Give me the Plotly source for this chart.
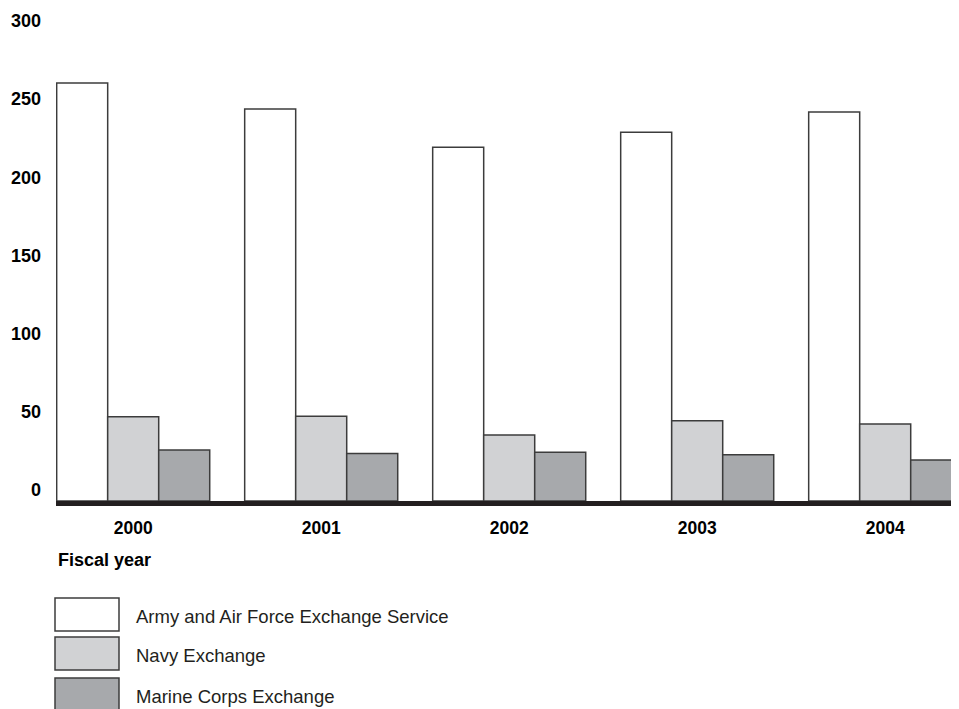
import plotly.graph_objects as go

years = ["2000", "2001", "2002", "2003", "2004"]
series_names = ["Army and Air Force Exchange Service", "Navy Exchange", "Marine Corps Exchange"]
aafes = [267.3, 250.7, 226.2, 235.8, 248.8]
navy = [53.9, 54.2, 42.2, 51.4, 49.2]
marine = [32.6, 30.3, 31.1, 29.6, 26.2]
y_ticks = [0, 50, 100, 150, 200, 250, 300]
x_title = "Fiscal year"

series_values = [aafes, navy, marine]
colors = ["#ffffff", "#d1d2d4", "#a7a9ac"]
outline = "#3c3c3c"

W, H = 959, 709
OFF = 8  # page body margin offset
# plot area in reference-window pixels
RL, RR, RT, RB = 56, 959, 20, 501
L, R, T, B = RL - OFF, RR - OFF, RT - OFF, RB - OFF
FONT = "Liberation Sans, Arial, sans-serif"

fig = go.Figure()
xs = list(range(len(years)))
for name, vals, col in zip(series_names, series_values, colors):
    fig.add_trace(go.Bar(
        x=xs, y=vals, name=name,
        marker=dict(color=col, line=dict(color=outline, width=1.5)),
        showlegend=False,
    ))

px_per_unit_x = 188.0
x0 = -(133.2 - RL) / px_per_unit_x
x1 = x0 + (RR - RL) / px_per_unit_x
px_per_unit_y = 1.5636
ytop = (RB - RT) / px_per_unit_y

def px_to_paper_x(px):
    return (px - RL) / (RR - RL)

def px_to_paper_y(py):
    return (RB - py) / (RB - RT)

shapes = []
annotations = []
box_tops = [598, 637, 678]
for i, (name, col) in enumerate(zip(series_names, colors)):
    top = box_tops[i]
    shapes.append(dict(
        type="rect", xref="paper", yref="paper",
        x0=px_to_paper_x(55), x1=px_to_paper_x(119),
        y0=px_to_paper_y(top), y1=px_to_paper_y(top + 33),
        fillcolor=col, line=dict(color=outline, width=1.5),
    ))
    annotations.append(dict(
        xref="paper", yref="paper", x=px_to_paper_x(134), y=px_to_paper_y(top + 18),
        xanchor="left", yanchor="middle", text=name, showarrow=False,
        font=dict(family=FONT, size=18.5, color="#231f20"),
    ))

annotations.append(dict(
    xref="paper", yref="paper", x=px_to_paper_x(56), y=px_to_paper_y(560),
    xanchor="left", yanchor="middle", text=x_title, showarrow=False,
    font=dict(family=FONT, size=18, color="#000000", weight="bold"),
))

fig.update_layout(
    width=W, height=H,
    margin=dict(l=L, r=W - R, t=T, b=H - B, pad=0, autoexpand=False),
    paper_bgcolor="white", plot_bgcolor="white",
    barmode="group", bargap=0.186, bargroupgap=0,
    shapes=shapes, annotations=annotations,
    xaxis=dict(
        range=[x0, x1], tickvals=xs, ticktext=years,
        showgrid=False, zeroline=False,
        showline=True, linewidth=5, linecolor="#231f20",
        ticks="", ticklabelstandoff=7,
        tickfont=dict(family=FONT, size=17.5, color="#000000", weight="bold"),
        automargin=False, fixedrange=True,
    ),
    yaxis=dict(
        range=[0, ytop], tickvals=y_ticks, ticktext=[str(v) for v in y_ticks],
        showgrid=False, zeroline=False, showline=False, ticks="",
        ticklabelshift=-11, ticklabelstandoff=14,
        tickfont=dict(family=FONT, size=18, color="#000000", weight="bold"),
        automargin=False, fixedrange=True,
    ),
)

fig.write_html("out.html")
